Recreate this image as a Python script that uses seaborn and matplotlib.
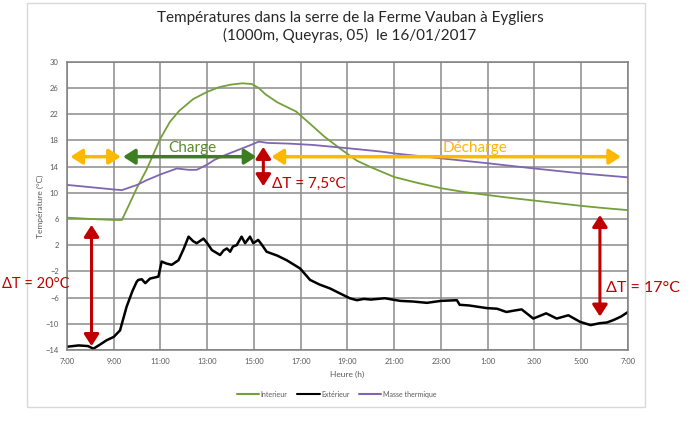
import numpy as np
import pandas as pd
import matplotlib
matplotlib.use("Agg")
import matplotlib.pyplot as plt
from matplotlib.patches import Rectangle
import seaborn as sns

sns.set_style("white")
plt.rcParams["font.family"] = ["Lato", "DejaVu Sans"]

# heures depuis 7:00 le 16/01 (31 = 7:00 le lendemain)
h_int = [7.0, 8.0, 9.0, 9.35, 9.7, 10.0, 10.4, 11.0, 11.4, 11.8, 12.4, 13.0, 13.5,
         14.0, 14.5, 14.9, 15.2, 15.5, 16.0, 16.8, 17.5, 18.0, 18.7, 19.4, 20.0,
         21.0, 22.0, 23.0, 24.0, 25.0, 26.0, 27.0, 28.0, 29.0, 30.0, 31.0]
t_int = [6.2, 6.0, 5.85, 5.85, 8.5, 10.8, 13.5, 18.3, 20.8, 22.5, 24.3, 25.4, 26.1,
         26.5, 26.7, 26.6, 26.0, 25.0, 23.8, 22.4, 20.2, 18.6, 16.7, 14.9, 13.9,
         12.4, 11.5, 10.7, 10.1, 9.65, 9.2, 8.8, 8.4, 8.0, 7.65, 7.35]

h_ext = [7.0, 7.5, 7.9, 8.13, 8.4, 8.7, 9.0, 9.27, 9.55, 9.8, 9.98, 10.05, 10.2, 10.35,
         10.55, 10.91, 11.05, 11.25, 11.48, 11.77, 12.0, 12.2, 12.4, 12.55, 12.84,
         13.0, 13.2, 13.55, 13.7, 13.84, 13.98, 14.1, 14.26, 14.47, 14.62, 14.83,
         14.97, 15.18, 15.35, 15.54, 16.0, 16.4, 16.97, 17.4, 17.8, 18.25, 18.7, 19.1,
         19.4, 19.7, 20.0, 20.6, 21.25, 21.8, 22.4, 23.0, 23.68, 23.8, 24.2, 24.95,
         25.4, 25.8, 26.1, 26.45, 26.95, 27.5, 27.95, 28.45, 28.95, 29.4, 29.8,
         30.1, 30.4, 30.7, 31.0]
t_ext = [-13.5, -13.3, -13.4, -13.8, -13.2, -12.5, -12.0, -11.0, -7.4, -5.0, -3.6,
         -3.3, -3.2, -3.8, -3.1, -2.8, -0.5, -0.8, -1.0, -0.3, 1.5, 3.3, 2.6, 2.3,
         3.0, 2.3, 1.25, 0.5, 1.2, 1.5, 1.0, 1.8, 2.0, 3.3, 2.3, 3.3, 2.3, 2.8, 2.0,
         1.0, 0.4, -0.3, -1.55, -3.3, -4.0, -4.6, -5.4, -6.1, -6.4, -6.2, -6.3,
         -6.1, -6.5, -6.6, -6.8, -6.5, -6.4, -7.1, -7.2, -7.6, -7.7, -8.2, -8.0,
         -7.8, -9.2, -8.4, -9.2, -8.7, -9.7, -10.2, -9.9, -9.8, -9.4, -8.9, -8.2]

h_mth = [7.0, 8.0, 9.0, 9.35, 10.0, 10.4, 11.0, 11.7, 12.2, 12.55, 13.0, 13.3, 13.8,
         14.3, 14.8, 15.2, 15.6, 16.5, 17.5, 19.0, 20.4, 21.0, 23.0, 25.0, 27.0,
         29.0, 31.0]
t_mth = [11.2, 10.85, 10.5, 10.4, 11.2, 11.9, 12.8, 13.7, 13.5, 13.5, 14.3, 15.0, 15.8,
         16.5, 17.2, 17.8, 17.6, 17.5, 17.3, 16.8, 16.3, 16.0, 15.25, 14.5, 13.7,
         12.95, 12.35]

x_ticks = [7, 9, 11, 13, 15, 17, 19, 21, 23, 25, 27, 29, 31]
x_labels = ["7:00", "9:00", "11:00", "13:00", "15:00", "17:00", "19:00", "21:00",
            "23:00", "1:00", "3:00", "5:00", "7:00"]
y_ticks = [-14, -10, -6, -2, 2, 6, 10, 14, 18, 22, 26, 30]

df = pd.concat([
    pd.DataFrame({"h": h_int, "T": t_int, "serie": "Interieur"}),
    pd.DataFrame({"h": h_ext, "T": t_ext, "serie": "Extérieur"}),
    pd.DataFrame({"h": h_mth, "T": t_mth, "serie": "Masse thermique"}),
])
palette = {"Interieur": "#74a03a", "Extérieur": "#000000", "Masse thermique": "#8066b0"}

fig = plt.figure(figsize=(7, 4.24), dpi=100)
fig.patches.append(Rectangle((27 / 700, 1 - 407 / 424), 618 / 700, 404 / 424,
                             transform=fig.transFigure, fill=False,
                             edgecolor="#d9d9d9", lw=1))
ax = fig.add_axes([0.0957, 0.1745, 0.8014, 0.68])
sns.lineplot(data=df, x="h", y="T", hue="serie", palette=palette, ax=ax,
             linewidth=1.5, sort=False, legend=True)
for line, w in zip(ax.lines, [1.3, 1.8, 1.3]):
    line.set_linewidth(w)

ax.set_xlim(7, 31)
ax.set_ylim(-14, 30)
ax.set_xticks(x_ticks)
ax.set_xticklabels(x_labels)
ax.set_yticks(y_ticks)
ax.tick_params(length=0, labelsize=5.5, colors="#595959", pad=6)
ax.grid(True, color="#8c8c8c", lw=1.1)
for s in ax.spines.values():
    s.set_color("#7f7f7f")
    s.set_linewidth(1.1)
ax.set_xlabel("Heure (h)", fontsize=6, color="#595959", labelpad=4)
ax.set_ylabel("Température (°C)", fontsize=6, color="#595959", labelpad=1)

fig.suptitle("Températures dans la serre de la Ferme Vauban à Eygliers\n"
             "(1000m, Queyras, 05)  le 16/01/2017", y=0.975, fontsize=11,
             color="#262626", linespacing=1.3)

leg = ax.legend(loc="center", bbox_to_anchor=(0.481, -0.153),
                ncol=3, frameon=False, fontsize=5, handlelength=3.2,
                columnspacing=1.4, handletextpad=0.2)
for t in leg.get_texts():
    t.set_color("#595959")

orange = "#ffb800"
red = "#c00000"
green = "#3e7d22"

def darrow(x0, y0, x1, y1, color, lw=2.5):
    ax.annotate("", xy=(x1, y1), xytext=(x0, y0), annotation_clip=False,
                arrowprops=dict(arrowstyle="<|-|>,head_length=0.7,head_width=0.45",
                                color=color, lw=lw, shrinkA=0, shrinkB=0))

darrow(7.15, 15.5, 9.3, 15.5, orange)
darrow(9.4, 15.5, 15.1, 15.5, green)
darrow(15.75, 15.5, 30.7, 15.5, orange)
darrow(15.4, 17.0, 15.4, 11.0, red, lw=2.2)
darrow(8.05, 5.1, 8.05, -13.4, red, lw=2.2)
darrow(29.8, 6.6, 29.8, -8.9, red, lw=2.2)

ax.text(12.35, 16.9, "Charge", color="#5a8a2e", fontsize=11, ha="center", va="center")
ax.text(24.45, 16.8, "Décharge", color=orange, fontsize=11, ha="center", va="center")
ax.text(15.75, 11.4, "ΔT = 7,5°C", color=red, fontsize=11, ha="left", va="center")
fig.text(2 / 700, 1 - 284 / 424, "ΔT = 20°C", color=red, fontsize=10.5, ha="left", va="center")
fig.text(606 / 700, 1 - 288 / 424, "ΔT = 17°C", color=red, fontsize=11.5, ha="left", va="center")

fig.savefig("out.png", dpi=100)
